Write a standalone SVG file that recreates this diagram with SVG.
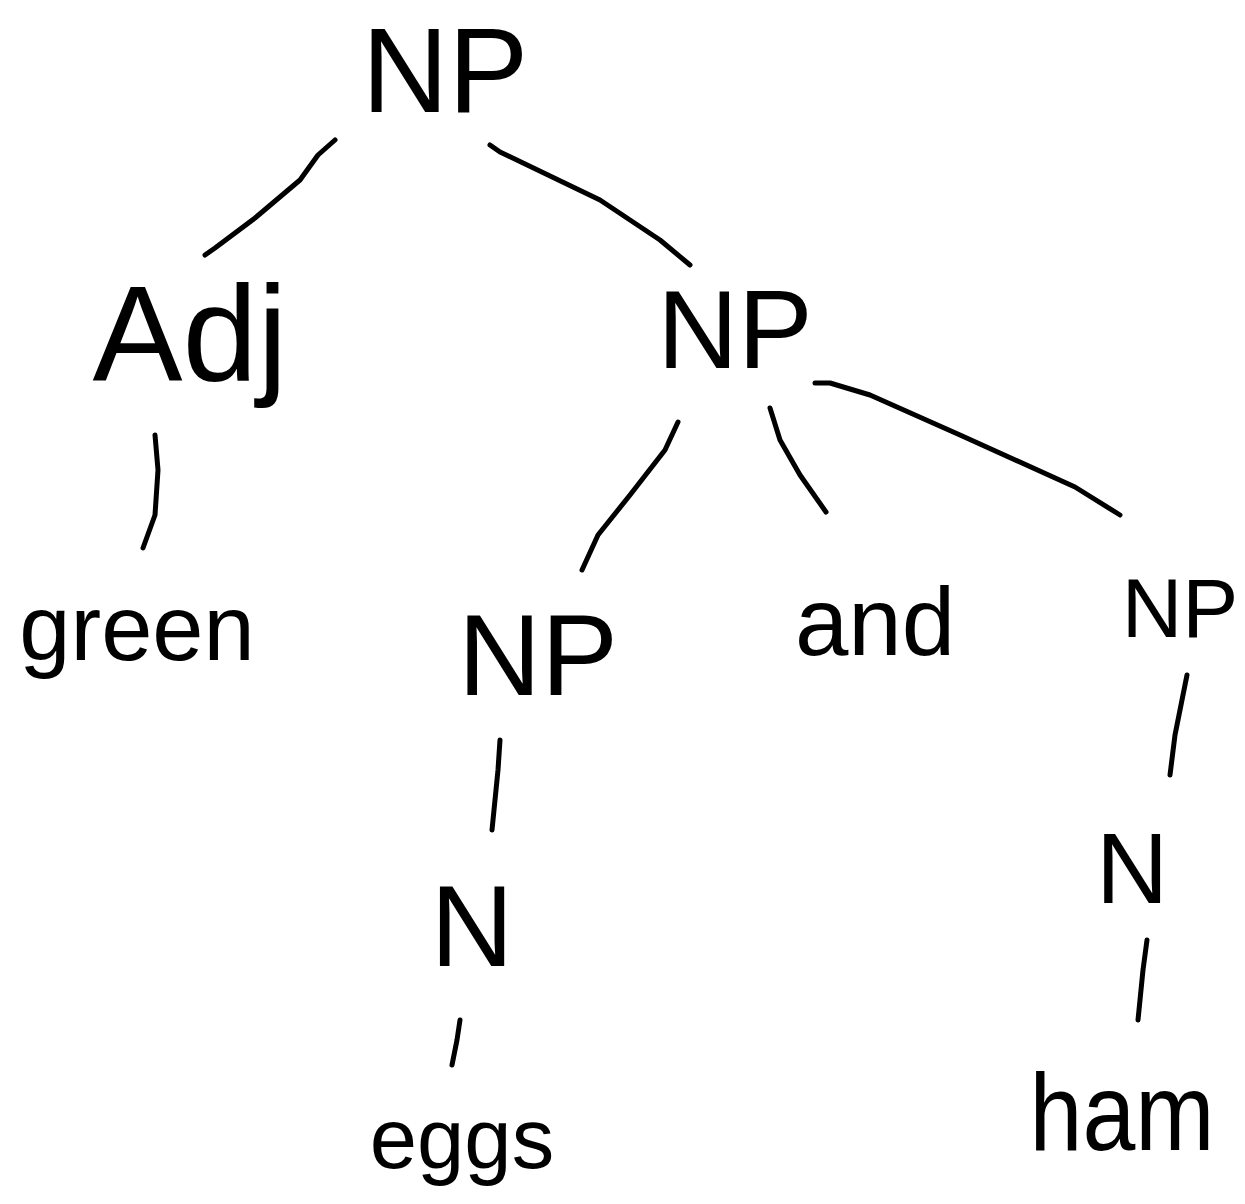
<svg xmlns="http://www.w3.org/2000/svg" width="1245" height="1204" viewBox="0 0 1245 1204">
  <style>
    .lbl { font-family: "Liberation Sans", Arial, sans-serif; fill: #000; text-anchor: middle; }
    .edge { fill: none; stroke: #000; stroke-width: 5; stroke-linecap: round; stroke-linejoin: round; }
  </style>
  <rect width="1245" height="1204" fill="#fff"/>

  <!-- tree branches -->
  <g id="connectors">
    <polyline class="edge" points="335,140 318,155 300,180 255,218 215,248 205,255"/>
    <polyline class="edge" points="490,145 500,152 600,200 660,240 690,265"/>
    <polyline class="edge" points="155,435 158,470 155,515 143,548"/>
    <polyline class="edge" points="678,422 665,450 630,495 598,535 582,570"/>
    <polyline class="edge" points="770,408 780,440 800,475 826,512"/>
    <polyline class="edge" points="815,383 830,383 870,395 960,435 1075,487 1120,515"/>
    <polyline class="edge" points="500,740 498,770 492,830"/>
    <polyline class="edge" points="460,1020 457,1040 452,1065"/>
    <polyline class="edge" points="1187,675 1182,700 1175,735 1170,775"/>
    <polyline class="edge" points="1147,940 1143,970 1138,1020"/>
  </g>

  <!-- tree nodes -->
  <g id="np-root"><text class="lbl" x="445" y="112" font-size="120">NP</text></g>
  <g id="adj"><text class="lbl" x="190" y="380" font-size="135">Adj</text></g>
  <g id="np-mid"><text class="lbl" x="735" y="368" font-size="112">NP</text></g>
  <g id="green"><text class="lbl" x="137" y="660" font-size="92">green</text></g>
  <g id="np-left"><text class="lbl" x="538" y="695" font-size="115">NP</text></g>
  <g id="and"><text class="lbl" x="875" y="655" font-size="96">and</text></g>
  <g id="np-right"><text class="lbl" x="1180" y="637" font-size="84">NP</text></g>
  <g id="n-eggs"><text class="lbl" x="472" y="966" font-size="115">N</text></g>
  <g id="eggs"><text class="lbl" x="462" y="1168" font-size="85">eggs</text></g>
  <g id="n-ham"><text class="lbl" x="1132" y="903" font-size="100">N</text></g>
  <g id="ham"><text class="lbl" x="1122" y="1150" font-size="110" textLength="185" lengthAdjust="spacingAndGlyphs">ham</text></g>
</svg>
